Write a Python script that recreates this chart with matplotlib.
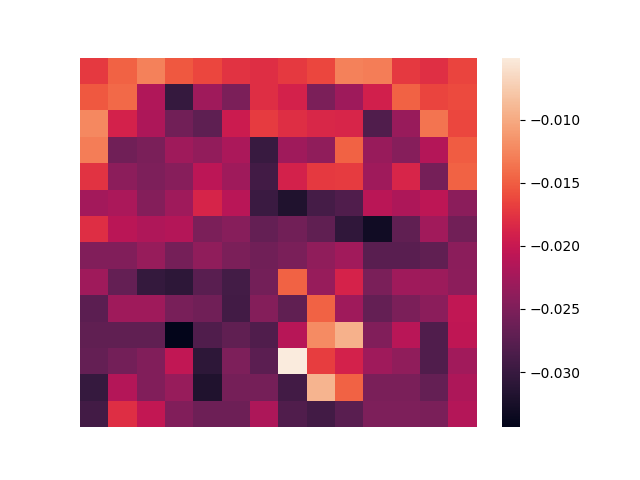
import numpy as np
import matplotlib
matplotlib.use("Agg")
import matplotlib.pyplot as plt
import seaborn as sns

row0 = [-0.0171, -0.0148, -0.0128, -0.0153, -0.0163, -0.0176, -0.0180, -0.0171, -0.0164, -0.0128, -0.0130, -0.0171, -0.0178, -0.0165]
row1 = [-0.0153, -0.0143, -0.0216, -0.0302, -0.0228, -0.0252, -0.0180, -0.0190, -0.0252, -0.0229, -0.0192, -0.0148, -0.0165, -0.0161]
row2 = [-0.0123, -0.0190, -0.0218, -0.0258, -0.0272, -0.0197, -0.0170, -0.0180, -0.0185, -0.0186, -0.0282, -0.0232, -0.0136, -0.0164]
row3 = [-0.0130, -0.0260, -0.0253, -0.0228, -0.0237, -0.0219, -0.0300, -0.0228, -0.0238, -0.0147, -0.0232, -0.0245, -0.0214, -0.0151]
row4 = [-0.0176, -0.0240, -0.0251, -0.0244, -0.0208, -0.0228, -0.0293, -0.0190, -0.0171, -0.0170, -0.0227, -0.0186, -0.0256, -0.0147]
row5 = [-0.0225, -0.0219, -0.0246, -0.0228, -0.0187, -0.0210, -0.0298, -0.0319, -0.0290, -0.0282, -0.0209, -0.0218, -0.0207, -0.0241]
row6 = [-0.0179, -0.0209, -0.0217, -0.0214, -0.0252, -0.0244, -0.0268, -0.0259, -0.0271, -0.0307, -0.0330, -0.0271, -0.0226, -0.0258]
row7 = [-0.0248, -0.0248, -0.0233, -0.0256, -0.0238, -0.0252, -0.0260, -0.0253, -0.0238, -0.0226, -0.0276, -0.0276, -0.0271, -0.0241]
row8 = [-0.0227, -0.0268, -0.0303, -0.0309, -0.0276, -0.0292, -0.0257, -0.0147, -0.0233, -0.0189, -0.0253, -0.0227, -0.0230, -0.0240]
row9 = [-0.0275, -0.0227, -0.0227, -0.0254, -0.0260, -0.0293, -0.0246, -0.0271, -0.0147, -0.0227, -0.0268, -0.0252, -0.0241, -0.0205]
row10 = [-0.0271, -0.0271, -0.0271, -0.03437, -0.0283, -0.0271, -0.0283, -0.0211, -0.0121, -0.0095, -0.0248, -0.0210, -0.0283, -0.0206]
row11 = [-0.0268, -0.0257, -0.0248, -0.0205, -0.0309, -0.0251, -0.0275, -0.00508, -0.0169, -0.0190, -0.0227, -0.0238, -0.0283, -0.0226]
row12 = [-0.0302, -0.0214, -0.0248, -0.0233, -0.0319, -0.0256, -0.0256, -0.0293, -0.0093, -0.0148, -0.0253, -0.0253, -0.0268, -0.0218]
row13 = [-0.0293, -0.0179, -0.0203, -0.0248, -0.0262, -0.0262, -0.0218, -0.0283, -0.0293, -0.0276, -0.0251, -0.0251, -0.0253, -0.0214]

data = np.array([row0, row1, row2, row3, row4, row5, row6, row7,
                 row8, row9, row10, row11, row12, row13])

fig = plt.figure(figsize=(6.4, 4.8), dpi=100)
ax = sns.heatmap(data, xticklabels=False, yticklabels=False)
fig.savefig("out.png", dpi=100)
